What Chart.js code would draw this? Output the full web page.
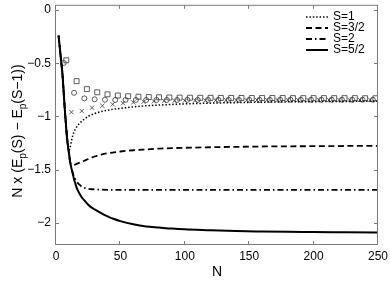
<!DOCTYPE html>
<html><head><meta charset="utf-8">
<script src="https://cdn.jsdelivr.net/npm/chart.js@4"></script>
<style>html,body{margin:0;padding:0;background:#fff}canvas{display:block}</style>
</head><body>
<canvas id="c" width="390" height="285"></canvas>
<script>
// ---- data ----
const nLine = [2,3,4,5,6,7,8,9,10,11,12,13,14,15,16,18,20,22,25,28,30,35,40,45,50,60,70,80,90,100,120,140,160,180,200,225,250];
const valS1 = [-0.24,-0.36,-0.48,-0.6,-0.78,-0.96,-1.12,-1.25,-1.32,-1.29,-1.23,-1.18,-1.145,-1.12,-1.1,-1.068,-1.045,-1.025,-1.0,-0.982,-0.972,-0.955,-0.942,-0.932,-0.924,-0.91,-0.9,-0.893,-0.887,-0.882,-0.875,-0.87,-0.866,-0.863,-0.861,-0.859,-0.857];
const valS32 = [-0.24,-0.36,-0.48,-0.6,-0.78,-0.96,-1.12,-1.25,-1.34,-1.43,-1.455,-1.46,-1.458,-1.452,-1.447,-1.437,-1.427,-1.417,-1.4,-1.385,-1.377,-1.36,-1.347,-1.338,-1.33,-1.318,-1.31,-1.303,-1.298,-1.295,-1.29,-1.286,-1.283,-1.281,-1.28,-1.278,-1.277];
const valS2 = [-0.24,-0.36,-0.48,-0.6,-0.78,-0.96,-1.12,-1.25,-1.34,-1.43,-1.49,-1.53,-1.565,-1.59,-1.61,-1.64,-1.66,-1.672,-1.68,-1.685,-1.687,-1.689,-1.69,-1.69,-1.69,-1.69,-1.69,-1.69,-1.69,-1.69,-1.69,-1.69,-1.69,-1.69,-1.69,-1.69,-1.69];
const valS52 = [-0.24,-0.36,-0.48,-0.6,-0.78,-0.96,-1.12,-1.25,-1.34,-1.43,-1.49,-1.54,-1.59,-1.63,-1.67,-1.72,-1.76,-1.79,-1.83,-1.86,-1.875,-1.91,-1.94,-1.965,-1.985,-2.015,-2.035,-2.045,-2.055,-2.062,-2.07,-2.078,-2.082,-2.085,-2.087,-2.09,-2.093];

const nSquare = [8,16,24,32,40,48,56,64,72,80,88,96,104,112,120,128,136,144,152,160,168,176,184,192,200,208,216,224,232,240,248];
const ySquare = [-0.472,-0.668,-0.743,-0.773,-0.792,-0.803,-0.81,-0.815,-0.818,-0.82,-0.822,-0.823,-0.824,-0.825,-0.825,-0.826,-0.826,-0.826,-0.827,-0.827,-0.827,-0.827,-0.828,-0.828,-0.828,-0.828,-0.828,-0.828,-0.828,-0.829,-0.829];
const nCircle = [6,14,22,30,38,46,54,62,70,78,86,94,102,110,118,126,134,142,150,158,166,174,182,190,198,206,214,222,230,238,246];
const yCircle = [-0.497,-0.778,-0.83,-0.839,-0.843,-0.845,-0.845,-0.845,-0.845,-0.845,-0.845,-0.845,-0.844,-0.844,-0.844,-0.844,-0.844,-0.844,-0.844,-0.844,-0.844,-0.843,-0.843,-0.843,-0.843,-0.843,-0.843,-0.843,-0.843,-0.843,-0.843];
const nCross = [12,20,28,36,44,52,60,68,76,84,92,100,108,116,124,132,140,148,156,164,172,180,188,196,204,212,220,228,236,244];
const yCross = [-0.96,-0.949,-0.918,-0.9,-0.886,-0.876,-0.868,-0.862,-0.858,-0.855,-0.853,-0.851,-0.85,-0.849,-0.848,-0.847,-0.847,-0.847,-0.846,-0.846,-0.846,-0.846,-0.846,-0.846,-0.845,-0.845,-0.845,-0.845,-0.845,-0.845];

const seriesNames = ['S=1','S=3/2','S=2','S=5/2'];
const xTickValues = [0,50,100,150,200,250];
const xTickLabels = ['0','50','100','150','200','250'];
const yTickValues = [-2,-1.5,-1,-0.5,0];
const yTickLabels = ['\u22122','\u22121.5','\u22121','\u22120.5','0'];
const xTitle = 'N';
const yTitleParts = [['N x (E',false],['p',true],['(S) \u2212 E',false],['p',true],['(S\u22121))',false]];

// ---- chart ----
const FONT = '"Liberation Sans", Arial, Helvetica, sans-serif';
const xy = (xs, ys) => xs.map((x, i) => ({x: x, y: ys[i]}));
const lineStyle = (label, ys, dash, w) => ({
  label: label, data: xy(nLine, ys), showLine: true, borderColor: '#000', backgroundColor: '#000',
  borderWidth: w, borderDash: dash, pointRadius: 0, cubicInterpolationMode: 'monotone', inLegend: true
});
const markStyle = (xs, ys, style, r) => ({
  data: xy(xs, ys), showLine: false, pointStyle: style, pointRadius: r, pointBorderWidth: 0.8,
  pointBorderColor: '#333', pointBackgroundColor: 'rgba(0,0,0,0)', borderColor: '#333', backgroundColor: 'rgba(0,0,0,0)', inLegend: false
});

const framePlugin = {
  id: 'frame',
  afterDatasetsDraw(chart) {
    const ctx = chart.ctx, a = chart.chartArea, xs = chart.scales.x, ys = chart.scales.y;
    ctx.save();
    ctx.strokeStyle = '#7a7a7a'; ctx.lineWidth = 1;
    ctx.strokeRect(a.left - 0.5, a.top + 0.5, a.right - a.left, a.bottom - a.top);
    ctx.beginPath();
    xTickValues.forEach(v => {
      const px = Math.round(xs.getPixelForValue(v)) - 0.5;
      ctx.moveTo(px, a.bottom + 0.5); ctx.lineTo(px, a.bottom - 3);
      ctx.moveTo(px, a.top + 0.5); ctx.lineTo(px, a.top + 4);
    });
    yTickValues.forEach(v => {
      const py = Math.round(ys.getPixelForValue(v)) + 0.5;
      ctx.moveTo(a.left - 0.5, py); ctx.lineTo(a.left + 3, py);
      ctx.moveTo(a.right - 0.5, py); ctx.lineTo(a.right - 4, py);
    });
    ctx.stroke();
    ctx.restore();
  },
  afterDraw(chart) {
    const ctx = chart.ctx, a = chart.chartArea;
    // y-axis title with subscripts
    ctx.save();
    ctx.fillStyle = '#000';
    ctx.translate(17, 131);
    ctx.rotate(-Math.PI / 2);
    ctx.textBaseline = 'alphabetic';
    let total = 0;
    yTitleParts.forEach(p => { ctx.font = (p[1] ? '10px ' : '14px ') + FONT; total += ctx.measureText(p[0]).width; });
    let x = -total / 2;
    yTitleParts.forEach(p => {
      ctx.font = (p[1] ? '10px ' : '14px ') + FONT;
      ctx.fillText(p[0], x, p[1] ? 8.5 : 5);
      x += ctx.measureText(p[0]).width;
    });
    ctx.restore();
    // legend
    ctx.save();
    const rows = [16.5, 27.5, 38.5, 49.5];
    let k = 0;
    chart.data.datasets.forEach(ds => {
      if (!ds.inLegend) return;
      const y = rows[k++];
      ctx.strokeStyle = '#000'; ctx.lineWidth = ds.borderWidth;
      ctx.setLineDash(ds.borderDash || []);
      ctx.beginPath(); ctx.moveTo(306, y + 0.5); ctx.lineTo(328, y + 0.5); ctx.stroke();
      ctx.setLineDash([]);
      ctx.fillStyle = '#000'; ctx.font = '12px ' + FONT; ctx.textBaseline = 'middle'; ctx.textAlign = 'left';
      ctx.fillText(ds.label, 333, y + 0.5);
    });
    ctx.restore();
  }
};

new Chart(document.getElementById('c'), {
  type: 'scatter',
  data: { datasets: [
    lineStyle(seriesNames[0], valS1, [1.5, 1.9], 1.5),
    lineStyle(seriesNames[1], valS32, [6, 3.5], 1.8),
    lineStyle(seriesNames[2], valS2, [6, 3, 1.5, 3], 1.8),
    lineStyle(seriesNames[3], valS52, [], 2),
    markStyle(nSquare, ySquare, 'rect', 3.5),
    markStyle(nCircle, yCircle, 'circle', 2.5),
    markStyle(nCross, yCross, 'crossRot', 3)
  ]},
  options: {
    responsive: false, animation: false, devicePixelRatio: 1,
    layout: { padding: { top: 4, right: 12, left: 0, bottom: 0 } },
    plugins: { legend: { display: false }, tooltip: { enabled: false } },
    scales: {
      x: {
        type: 'linear', min: 0, max: 250,
        grid: { display: false, drawTicks: false }, border: { display: false },
        afterBuildTicks: s => { s.ticks = xTickValues.map(v => ({value: v})); },
        afterFit: s => { s.height = 41; s.paddingLeft = 0; s.paddingRight = 0; },
        ticks: { padding: 5, color: '#000', font: { family: FONT, size: 12 }, maxRotation: 0,
          callback: v => xTickLabels[xTickValues.indexOf(v)] },
        title: { display: true, text: xTitle, color: '#000', font: { family: FONT, size: 14 }, padding: { top: 0, bottom: 4 } }
      },
      y: {
        type: 'linear', min: -2.2, max: 0.05,
        grid: { display: false, drawTicks: false }, border: { display: false },
        afterBuildTicks: s => { s.ticks = yTickValues.map(v => ({value: v})); },
        afterFit: s => { s.width = 56; s.paddingTop = 0; s.paddingBottom = 0; },
        ticks: { padding: 5, color: '#000', font: { family: FONT, size: 12 },
          callback: v => yTickLabels[yTickValues.indexOf(v)] }
      }
    }
  },
  plugins: [framePlugin]
});
</script>
</body></html>
